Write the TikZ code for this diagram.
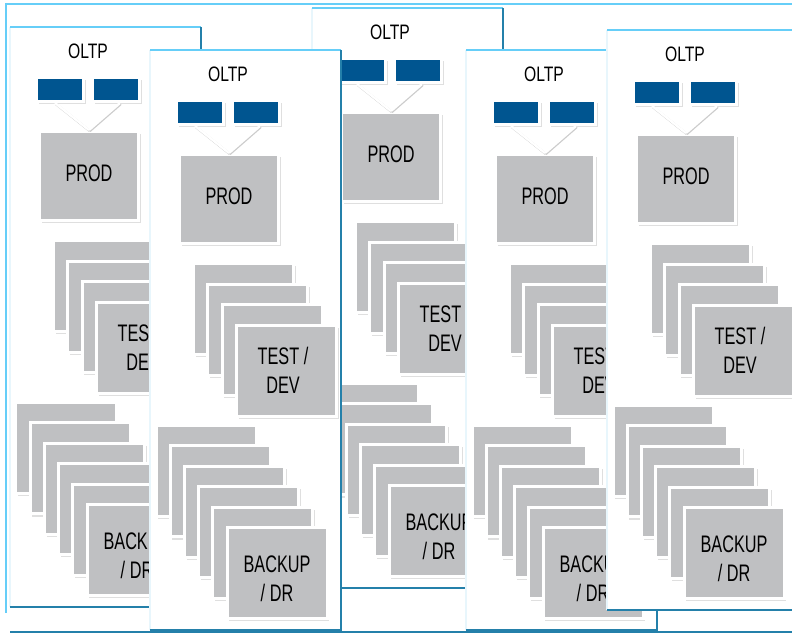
\documentclass[tikz,border=0pt]{standalone}
\usepackage{fontspec}
\setmainfont{Liberation Sans}
\usepackage{graphicx}
\usetikzlibrary{shadows}
\definecolor{frametop}{RGB}{102,206,248}
\definecolor{frameleft}{RGB}{232,246,252}
\definecolor{framebot}{RGB}{36,128,170}
\definecolor{oltpblue}{RGB}{0,85,144}
\definecolor{boxgray}{RGB}{191,192,194}
\newcommand{\lbl}[2][0.68]{\scalebox{#1}[1]{\begin{tabular}{@{}c@{}}#2\end{tabular}}}
\tikzset{
  card/.style={draw=white, line width=3bp, fill=boxgray, inner sep=0pt,
    minimum width=100bp, minimum height=91bp,
    font=\fontsize{24}{30}\selectfont,
    drop shadow={shadow xshift=2.2bp, shadow yshift=-2.6bp, opacity=.25}},
  oltpbox/.style={card, fill=oltpblue, minimum width=47bp, minimum height=24bp},
  prodbox/.style={card, minimum width=99bp, minimum height=89bp},
  cardtext/.style={font=\fontsize{24}{30}\selectfont, inner sep=0pt},
  title/.style={font=\fontsize{21}{26}\selectfont, inner sep=0pt},
  paneltop/.style={frametop, line width=1.6bp},
  panelleft/.style={frameleft, line width=1.2bp},
  panelbot/.style={framebot, line width=1.6bp},
  vline/.style={white, line width=2.4bp},
  vshadow/.style={black, opacity=.2, line width=2.4bp},
}
\begin{document}
\begin{tikzpicture}[x=1bp,y=-1bp]
\useasboundingbox (0,0) rectangle (792,633);
\clip (0,0) rectangle (792,633);
% outer frame
\draw[frametop, line width=2.2bp] (5,4) -- (792,4);
\draw[frametop, line width=2.2bp] (6,3) -- (6,613);
\draw[framebot, line width=2bp] (10,631.5) -- (792,631.5);
% panels, back to front
\foreach \n/\px/\py in {1/10/27,3/312/8,2/150/50,4/466/50,5/607/30}{
\begin{scope}[shift={(\px,\py)}]
\fill[white] (0,0) rectangle (191,580);
\draw[panelleft] (0,0) -- (0,580);
\draw[paneltop] (0,0) -- (191,0);
\draw[panelbot] (191,0) -- (191,580) -- (0,580);
\node[title] (oltp\n) at (78,26.8) {\lbl[0.75]{OLTP}};
\node[oltpbox] (ola\n) at (50,62.5) {};
\node[oltpbox] (olb\n) at (106,62.5) {};
\node[prodbox] (prod\n) at (79,149) {\lbl{PROD}};
\draw[vshadow] ([xshift=-4.2bp,yshift=-1bp]ola\n.south) -- ([xshift=0.8bp,yshift=-1bp]prod\n.north);
\draw[vshadow] ([xshift=4.8bp,yshift=-1bp]olb\n.south) -- ([xshift=0.8bp,yshift=-1bp]prod\n.north);
\draw[vline] ([xshift=-5bp]ola\n.south) -- (prod\n.north);
\draw[vline] ([xshift=4bp]olb\n.south) -- (prod\n.north);
% test / dev stack
\foreach \i in {0,...,3}
  \node[card] (td\n-\i) at (93.5+14.33*\i, 259+20.67*\i) {};
\node[cardtext] (tdtxt\n) at (133,323) {\lbl{TEST /\\DEV}};
% backup / dr stack
\foreach \j in {0,...,5}
  \node[card] (bk\n-\j) at (56+14.2*\j, 421+20.4*\j) {};
\node[cardtext] (bktxt\n) at (127,531) {\lbl{BACKUP\\/ DR}};
\end{scope}
}
\end{tikzpicture}
\end{document}
